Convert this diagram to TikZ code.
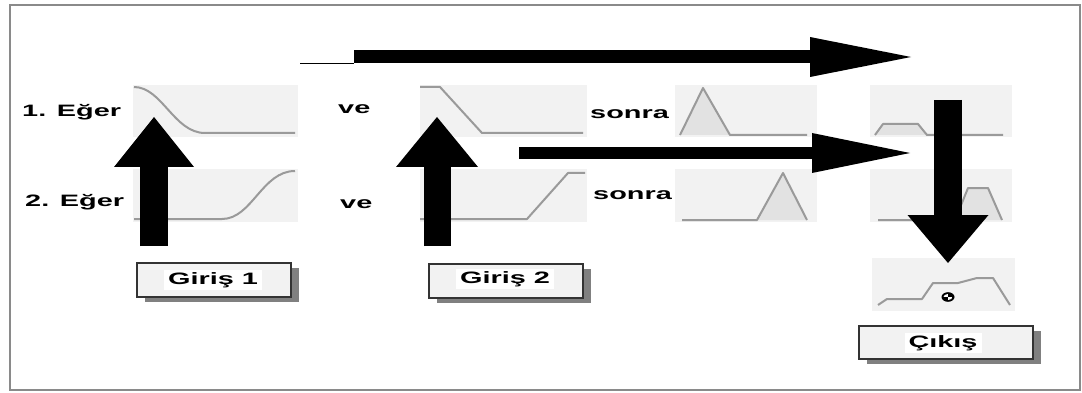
\documentclass[tikz,border=0pt]{standalone}
\usepackage{fontspec}
\newfontfamily\lbl{Liberation Sans}[FakeStretch=1.75]
\usetikzlibrary{arrows.meta,shadows}
\definecolor{panelgray}{HTML}{F2F2F2}
\definecolor{curvegray}{HTML}{9A9A9A}
\definecolor{fillgray}{HTML}{E2E2E2}
\definecolor{framegray}{HTML}{8A8A8A}
\tikzset{
  panel/.style={fill=panelgray, draw=none, minimum height=52.5pt, inner sep=0pt},
  curve/.style={draw=curvegray, line width=2pt, line join=round},
  bump/.style={fill=fillgray, draw=none},
  lab/.style={font=\lbl\bfseries\fontsize{16.5}{18}\selectfont, inner sep=0pt, anchor=base west},
  btn/.style={fill=panelgray, draw=black!80, line width=1.5pt, minimum height=34pt,
    drop shadow={shadow xshift=8pt, shadow yshift=-5pt, fill=black!50, opacity=1}},
  btntext/.style={font=\lbl\bfseries\fontsize{16.5}{18}\selectfont, fill=white, inner xsep=4pt, inner ysep=2.5pt, anchor=base},
  blk/.style n args={3}{line width=#1, -{Triangle[length=#3, width=#2, line width=0pt]}},
}
\begin{document}
\begin{tikzpicture}[x=1pt,y=-1pt]
\useasboundingbox (0,0) rectangle (1082,393);
% frame
\draw[framegray, line width=2.5pt] (10,5) rectangle (1080,390);

% panels
\node[panel, minimum width=165pt] (p11) at (215.5,111) {};
\node[panel, minimum width=165pt] (p12) at (215.5,195.5) {};
\node[panel, minimum width=167pt] (p21) at (503.5,111) {};
\node[panel, minimum width=167pt] (p22) at (503.5,195.5) {};
\node[panel, minimum width=142pt] (p31) at (746,111) {};
\node[panel, minimum width=142pt] (p32) at (746,195.5) {};
\node[panel, minimum width=142pt] (p41) at (941,111) {};
\node[panel, minimum width=142pt] (p42) at (941,195.5) {};
\node[panel, minimum width=143pt] (p5) at (943.5,284.5) {};

% membership curves
\draw[curve] (134,87) .. controls (162,87) and (174,133) .. (205,133) -- (295,133);
\draw[curve] (134,219) -- (222,219) .. controls (252,219) and (262,171) .. (295,171);
\draw[curve] (420,87) -- (440,87) -- (482,133) -- (583,133);
\draw[curve] (420,219) -- (527,219) -- (568,173) -- (585,173);
\fill[bump] (680,135) -- (703,88) -- (730,135) -- cycle;
\draw[curve] (680,135) -- (703,88) -- (730,135) -- (807,135);
\fill[bump] (757,220) -- (783,173) -- (807,220) -- cycle;
\draw[curve] (682,220) -- (757,220) -- (783,173) -- (807,220);
\fill[bump] (875,135) -- (883,124) -- (918,124) -- (927,135) -- cycle;
\draw[curve] (875,135) -- (883,124) -- (918,124) -- (927,135) -- (1003,135);
\fill[bump] (955,220) -- (968,188) -- (988,188) -- (1002,220) -- cycle;
\draw[curve] (878,220) -- (955,220) -- (968,188) -- (988,188) -- (1002,220);
\draw[curve] (878,305) -- (887,299) -- (922,299) -- (933,283) -- (958,283) -- (977,278) -- (993,278) -- (1010,305);

% centroid marker
\coordinate (cm) at (948,297);
\fill[black] (cm) ellipse [x radius=6.5pt, y radius=4.8pt];
\begin{scope}
\clip (cm) ellipse [x radius=4.5pt, y radius=3pt];
\fill[white] (cm) rectangle ++(-5,-4);
\fill[white] (cm) rectangle ++(5,4);
\end{scope}

% buttons
\node[btn, minimum width=154pt] (g1) at (214,280) {};
\node[btntext] (g1t) at (213,284) {Giriş 1};
\node[btn, minimum width=154pt] (g2) at (506,281) {};
\node[btntext] (g2t) at (505,283) {Giriş 2};
\node[btn, minimum width=174pt, minimum height=33pt] (out) at (946,342.5) {};
\node[btntext] (outt) at (943,347) {Çıkış};

% arrow end points
\coordinate (a0) at (300,63.5);
\coordinate (a1) at (354,63.5);
\coordinate (a1c) at (354,57);
\coordinate (a2) at (911,57);
\coordinate (b1) at (519,153);
\coordinate (b2) at (910,153);
\coordinate (u1s) at (154,246);
\coordinate (u1e) at (154,117);
\coordinate (u2s) at (437,246);
\coordinate (u2e) at (437,117);
\coordinate (ds) at (948,100);
\coordinate (de) at (948,263);

% arrows
\draw[line width=1.3pt] (a0) -- (a1);
\draw[blk={13pt}{40pt}{101pt}] (a1c) -- (a2);
\draw[blk={12pt}{40pt}{98pt}] (b1) -- (b2);
\draw[blk={28pt}{80pt}{50pt}] (u1s) -- (u1e);
\draw[blk={27pt}{82pt}{50pt}] (u2s) -- (u2e);
\draw[blk={28pt}{81pt}{48pt}] (ds) -- (de);

% labels
\node[lab] (e1) at (22,117) {1. Eğer};
\node[lab] (e2) at (25,207) {2. Eğer};
\node[lab] (v1) at (338,114) {ve};
\node[lab] (v2) at (340,208) {ve};
\node[lab] (s1) at (590,119) {sonra};
\node[lab, fill=white, inner xsep=2pt, inner ysep=2pt] (s2) at (591,200) {sonra};
\end{tikzpicture}
\end{document}
